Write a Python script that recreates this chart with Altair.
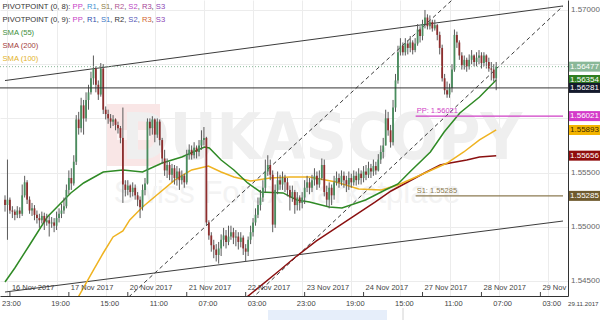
import altair as alt
import pandas as pd

FONT = "Liberation Sans, Arial, sans-serif"
W, H = 568, 296

# ---------------- data (hourly candles, trading hours since 16 Nov 2017 00:00) ----------------
first_open = 1.5525
close = [
    1.5520, 1.5525, 1.5515, 1.5514, 1.5511, 1.5515, 1.5512, 1.5529, 1.5541, 1.5525,
    1.5515, 1.5517, 1.5511, 1.5508, 1.5506, 1.5510, 1.5504, 1.5506, 1.5503, 1.5504,
    1.5501, 1.5508, 1.5512, 1.5515, 1.5519, 1.5534, 1.5545, 1.5540, 1.5560, 1.5599,
    1.5591, 1.5612, 1.5600, 1.5617, 1.5624, 1.5637, 1.5646, 1.5631, 1.5622, 1.5646,
    1.5608, 1.5604, 1.5600, 1.5597, 1.5599, 1.5594, 1.5591, 1.5582, 1.5539, 1.5534,
    1.5538, 1.5532, 1.5536, 1.5529, 1.5525, 1.5518, 1.5534, 1.5540, 1.5597, 1.5591,
    1.5599, 1.5585, 1.5597, 1.5580, 1.5563, 1.5552, 1.5557, 1.5548, 1.5554, 1.5545,
    1.5551, 1.5543, 1.5547, 1.5541, 1.5566, 1.5571, 1.5566, 1.5573, 1.5569, 1.5575,
    1.5580, 1.5582, 1.5504, 1.5492, 1.5483, 1.5479, 1.5474, 1.5480, 1.5488, 1.5492,
    1.5486, 1.5491, 1.5495, 1.5490, 1.5491, 1.5486, 1.5490, 1.5480, 1.5477, 1.5488,
    1.5495, 1.5504, 1.5511, 1.5520, 1.5527, 1.5536, 1.5551, 1.5557, 1.5548, 1.5502,
    1.5534, 1.5543, 1.5539, 1.5545, 1.5541, 1.5534, 1.5527, 1.5532, 1.5520, 1.5527,
    1.5522, 1.5527, 1.5536, 1.5541, 1.5536, 1.5543, 1.5547, 1.5539, 1.5545, 1.5557,
    1.5532, 1.5525, 1.5536, 1.5529, 1.5541, 1.5545, 1.5541, 1.5547, 1.5543, 1.5539,
    1.5545, 1.5541, 1.5547, 1.5543, 1.5549, 1.5545, 1.5551, 1.5548, 1.5554, 1.5551,
    1.5556, 1.5552, 1.5562, 1.5569, 1.5575, 1.5600, 1.5589, 1.5578, 1.5610, 1.5635,
    1.5661, 1.5667, 1.5661, 1.5669, 1.5665, 1.5670, 1.5663, 1.5669, 1.5682, 1.5676,
    1.5687, 1.5693, 1.5685, 1.5689, 1.5683, 1.5686, 1.5677, 1.5665, 1.5637, 1.5626,
    1.5622, 1.5628, 1.5645, 1.5677, 1.5670, 1.5658, 1.5649, 1.5654, 1.5648, 1.5654,
    1.5658, 1.5652, 1.5656, 1.5658, 1.5651, 1.5658, 1.5652, 1.5646, 1.5645, 1.5637,
    1.56477,
]
high = [
    1.5529, 1.5562, 1.5527, 1.5519, 1.5516, 1.5519, 1.5518, 1.5539, 1.5547, 1.5543,
    1.5528, 1.5522, 1.5520, 1.5515, 1.5512, 1.5514, 1.5513, 1.5512, 1.5510, 1.5509,
    1.5508, 1.5514, 1.5517, 1.5521, 1.5527, 1.5539, 1.5552, 1.5554, 1.5566, 1.5603,
    1.5606, 1.5619, 1.5617, 1.5624, 1.5631, 1.5643, 1.5658, 1.5648, 1.5635, 1.5651,
    1.5650, 1.5611, 1.5608, 1.5604, 1.5603, 1.5600, 1.5597, 1.5593, 1.5610, 1.5543,
    1.5543, 1.5539, 1.5541, 1.5539, 1.5532, 1.5528, 1.5539, 1.5545, 1.5600, 1.5600,
    1.5602, 1.5600, 1.5600, 1.5599, 1.5582, 1.5571, 1.5563, 1.5560, 1.5558, 1.5557,
    1.5556, 1.5554, 1.5552, 1.5549, 1.5571, 1.5576, 1.5575, 1.5578, 1.5575, 1.5580,
    1.5589, 1.5592, 1.5583, 1.5506, 1.5495, 1.5488, 1.5484, 1.5486, 1.5493, 1.5499,
    1.5497, 1.5501, 1.5501, 1.5499, 1.5497, 1.5495, 1.5495, 1.5492, 1.5484, 1.5491,
    1.5501, 1.5508, 1.5517, 1.5527, 1.5534, 1.5543, 1.5562, 1.5566, 1.5562, 1.5552,
    1.5539, 1.5551, 1.5548, 1.5551, 1.5548, 1.5545, 1.5538, 1.5538, 1.5534, 1.5532,
    1.5529, 1.5532, 1.5543, 1.5547, 1.5545, 1.5548, 1.5554, 1.5551, 1.5552, 1.5563,
    1.5562, 1.5538, 1.5541, 1.5539, 1.5547, 1.5551, 1.5549, 1.5552, 1.5551, 1.5547,
    1.5551, 1.5549, 1.5552, 1.5551, 1.5554, 1.5552, 1.5556, 1.5557, 1.5560, 1.5558,
    1.5562, 1.5560, 1.5567, 1.5575, 1.5582, 1.5608, 1.5606, 1.5594, 1.5617, 1.5641,
    1.5667, 1.5674, 1.5670, 1.5674, 1.5672, 1.5676, 1.5672, 1.5674, 1.5687, 1.5685,
    1.5691, 1.5700, 1.5696, 1.5695, 1.5691, 1.5691, 1.5687, 1.5680, 1.5668, 1.5641,
    1.5634, 1.5632, 1.5650, 1.5682, 1.5680, 1.5672, 1.5661, 1.5658, 1.5656, 1.5659,
    1.5663, 1.5659, 1.5661, 1.5663, 1.5661, 1.5661, 1.5659, 1.5656, 1.5652, 1.5650,
    1.5652,
]
low = [
    1.5514, 1.5488, 1.5512, 1.5508, 1.5506, 1.5508, 1.5508, 1.5510, 1.5527, 1.5521,
    1.5512, 1.5510, 1.5506, 1.5503, 1.5499, 1.5503, 1.5497, 1.5501, 1.5491, 1.5499,
    1.5495, 1.5497, 1.5504, 1.5508, 1.5512, 1.5517, 1.5530, 1.5534, 1.5538, 1.5557,
    1.5585, 1.5587, 1.5585, 1.5597, 1.5608, 1.5622, 1.5631, 1.5624, 1.5617, 1.5620,
    1.5604, 1.5599, 1.5595, 1.5591, 1.5593, 1.5589, 1.5586, 1.5577, 1.5522, 1.5528,
    1.5529, 1.5527, 1.5528, 1.5525, 1.5519, 1.5508, 1.5515, 1.5529, 1.5539, 1.5584,
    1.5585, 1.5578, 1.5582, 1.5575, 1.5558, 1.5547, 1.5545, 1.5543, 1.5541, 1.5539,
    1.5538, 1.5534, 1.5539, 1.5536, 1.5539, 1.5562, 1.5562, 1.5563, 1.5563, 1.5565,
    1.5571, 1.5575, 1.5501, 1.5488, 1.5477, 1.5471, 1.5468, 1.5466, 1.5473, 1.5482,
    1.5480, 1.5483, 1.5488, 1.5484, 1.5482, 1.5479, 1.5481, 1.5474, 1.5468, 1.5473,
    1.5484, 1.5491, 1.5501, 1.5508, 1.5515, 1.5523, 1.5532, 1.5547, 1.5543, 1.5495,
    1.5499, 1.5530, 1.5534, 1.5534, 1.5532, 1.5528, 1.5515, 1.5523, 1.5512, 1.5515,
    1.5515, 1.5517, 1.5521, 1.5532, 1.5530, 1.5532, 1.5538, 1.5534, 1.5536, 1.5543,
    1.5528, 1.5519, 1.5517, 1.5520, 1.5525, 1.5538, 1.5536, 1.5538, 1.5536, 1.5532,
    1.5534, 1.5536, 1.5538, 1.5538, 1.5539, 1.5539, 1.5541, 1.5543, 1.5545, 1.5545,
    1.5547, 1.5548, 1.5551, 1.5558, 1.5563, 1.5575, 1.5584, 1.5573, 1.5575, 1.5606,
    1.5632, 1.5658, 1.5658, 1.5658, 1.5659, 1.5661, 1.5659, 1.5661, 1.5667, 1.5670,
    1.5672, 1.5683, 1.5682, 1.5682, 1.5680, 1.5681, 1.5672, 1.5659, 1.5634, 1.5622,
    1.5619, 1.5619, 1.5624, 1.5643, 1.5665, 1.5654, 1.5645, 1.5645, 1.5643, 1.5645,
    1.5650, 1.5648, 1.5648, 1.5650, 1.5646, 1.5648, 1.5646, 1.5643, 1.5635, 1.5634,
    1.5626,
]
hours = list(range(-2, -2 + len(close)))

# moving averages (hour, price)
sma55_h = [-2, 2, 8, 15.2, 24.8, 30, 38, 46, 54, 62, 70, 79.2, 81.2, 86, 91.2, 96.8, 102,
           111.2, 116.8, 122, 130, 135.2, 144.8, 152.8, 158, 162.8, 171.2, 176.8, 183.2, 191.2, 198]
sma55_p = [1.54491, 1.54620, 1.54832, 1.55090, 1.55312, 1.55404, 1.55505, 1.55524, 1.55505,
           1.55588, 1.55644, 1.55736, 1.55727, 1.55616, 1.55524, 1.55404, 1.55321, 1.55312,
           1.55247, 1.55229, 1.55182, 1.55173, 1.55247, 1.55339, 1.55395, 1.55505, 1.55690,
           1.55874, 1.56050, 1.56197, 1.56354]
sma100_h = [26, 34, 38, 42, 46, 48.8, 54, 60.8, 67.2, 74, 80.8, 86, 91.2, 98, 106, 114, 122,
            132.8, 142, 151.2, 158, 167.2, 178, 184.8, 191.2, 198]
sma100_p = [1.54278, 1.54601, 1.54758, 1.54906, 1.54961, 1.55063, 1.55182, 1.55312, 1.55432,
            1.55524, 1.55561, 1.55505, 1.55459, 1.55422, 1.55450, 1.55459, 1.55459, 1.55413,
            1.55348, 1.55339, 1.55385, 1.55478, 1.55588, 1.55690, 1.55801, 1.55893]
sma200_h = [96, 110, 116.8, 124.8, 132.8, 140.8, 148.8, 155.2, 162, 168.8, 175.2, 179.2, 186, 191.2, 198]
sma200_p = [1.54343, 1.54601, 1.54730, 1.54869, 1.54989, 1.55109, 1.55229, 1.55330, 1.55413,
            1.55496, 1.55570, 1.55588, 1.55616, 1.55644, 1.55656]

# drawn trend lines (hour, price end points)
solid_lines = {"upper": ([-2, 225.2], [1.56349, 1.57037]),
               "lower": ([-2, 225.2], [1.54398, 1.55053])}
dashed_lines = {"a": ([40, 190], [1.54178, 1.57299]),
                "b": ([90, 225.2], [1.54157, 1.57036])}

current_price = 1.56477
level_black = 1.56281
pivot_names = ["PP", "S1"]
pivot_values = [1.56021, 1.55285]
pivot_colors = ["#cf3fc6", "#8c7b52"]
pivot_start_h = 165.2

tag_values = [1.56477, 1.56354, 1.56281, 1.56021, 1.55893, 1.55656, 1.55285]
tag_fill = ["#8ab898", "#2f7e20", "#141a2c", "#d43bc9", "#f3b400", "#8f0c0c", "#6f5b2e"]
tag_text = ["#ffffff", "#ffffff", "#ffffff", "#ffffff", "#3a2a00", "#ffffff", "#ffffff"]

y_grid = [1.545, 1.550, 1.555, 1.560, 1.565, 1.570]
y_labels = [1.570, 1.555, 1.550, 1.545]

time_ticks = [-1, 19, 39, 59, 79, 99, 119, 139, 159, 179, 199, 219]
time_labels = ["23:00", "19:00", "15:00", "11:00", "07:00", "03:00",
               "23:00", "19:00", "15:00", "11:00", "07:00", "03:00"]
date_ticks = [0, 24, 48, 72, 96, 120, 144, 168, 192, 216]
date_labels = ["16 Nov 2017", "17 Nov 2017", "20 Nov 2017", "21 Nov 2017", "22 Nov 2017",
               "23 Nov 2017", "24 Nov 2017", "27 Nov 2017", "28 Nov 2017", "29 Nov 2017"]
nav_date = "29.11.2017"

# ---------------- scales / helpers ----------------
xs = alt.Scale(domain=[-2, 225.2], nice=False, zero=False)
ys = alt.Scale(domain=[1.543614, 1.57092], nice=False, zero=False)
xaxis = alt.Axis(values=time_ticks, grid=True, gridColor="#ececec", labels=False, ticks=False,
                 domain=True, domainColor="#333333", title=None)
yaxis = alt.Axis(orient="right", values=y_grid, grid=True, gridColor="#ececec", labels=False,
                 ticks=False, domain=True, domainColor="#333333", title=None)


def X(f="h"):
    return alt.X(f"{f}:Q", scale=xs, axis=xaxis)


def Y(f="p"):
    return alt.Y(f"{f}:Q", scale=ys, axis=yaxis)


one = pd.DataFrame({"a": [0]})

opens = [first_open] + close[:-1]
candles = pd.DataFrame({"h": hours, "open": opens, "high": high, "low": low, "close": close})

GREEN, RED = "#4a8d5e", "#8e2e2e"

wicks = alt.Chart(candles).mark_rule(strokeWidth=1, color="#5a5a5a", clip=True).encode(
    x=X("h"), y=Y("low"), y2="high")
bodies = alt.Chart(candles).transform_calculate(
    col=f"datum.close >= datum.open ? '{GREEN}' : '{RED}'"
).mark_bar(size=1.8, clip=True).encode(
    x=X("h"), y=Y("open"), y2="close", color=alt.Color("col:N", scale=None))


def line_df(h, p, name):
    return pd.DataFrame({"h": h, "p": p, "name": name})


sma55 = alt.Chart(line_df(sma55_h, sma55_p, "55")).mark_line(
    color="#2f8a25", strokeWidth=1.5, clip=True).encode(x=X(), y=Y())
sma100 = alt.Chart(line_df(sma100_h, sma100_p, "100")).mark_line(
    color="#efb321", strokeWidth=1.5, clip=True).encode(x=X(), y=Y())
sma200 = alt.Chart(line_df(sma200_h, sma200_p, "200")).mark_line(
    color="#8a1010", strokeWidth=1.5, clip=True).encode(x=X(), y=Y())

solid_df = pd.concat([line_df(v[0], v[1], k) for k, v in solid_lines.items()])
dashed_df = pd.concat([line_df(v[0], v[1], k) for k, v in dashed_lines.items()])
solid = alt.Chart(solid_df).mark_line(color="#3c3c3c", strokeWidth=1, clip=True).encode(
    x=X(), y=Y(), detail="name:N")
dashed = alt.Chart(dashed_df).mark_line(color="#3c3c3c", strokeWidth=1, strokeDash=[4, 3],
                                        clip=True).encode(x=X(), y=Y(), detail="name:N")

cur_rule = alt.Chart(pd.DataFrame({"p": [current_price]})).mark_rule(
    color="#8ab898", strokeDash=[1, 2], strokeWidth=1).encode(y=Y())
black_rule = alt.Chart(pd.DataFrame({"p": [level_black]})).mark_rule(
    color="#333333", strokeWidth=1).encode(y=Y())

piv_df = pd.DataFrame({"name": pivot_names, "p": pivot_values, "col": pivot_colors,
                       "h": [pivot_start_h] * 2, "h2": [225.2] * 2})
piv_df["label"] = piv_df["name"] + ": " + piv_df["p"].map(lambda v: f"{v:.5f}")
piv_rules = alt.Chart(piv_df).mark_rule(strokeWidth=1.2).encode(
    x=X(), x2="h2", y=Y(), color=alt.Color("col:N", scale=None))
piv_text = alt.Chart(piv_df).mark_text(align="left", baseline="bottom", dx=1, dy=-1,
                                       fontSize=7.5, font=FONT).encode(
    x=X(), y=Y(), text="label:N", color=alt.Color("col:N", scale=None))

# right side price tags
tags_df = pd.DataFrame({"p": tag_values, "fill": tag_fill, "tcol": tag_text})
tags_df["label"] = tags_df["p"].map(lambda v: f"{v:.5f}")
tag_box = alt.Chart(tags_df).mark_tick(orient="horizontal", size=31, thickness=10,
                                       opacity=1).encode(
    x=alt.value(584.5), y=Y(), color=alt.Color("fill:N", scale=None))
tag_txt = alt.Chart(tags_df).mark_text(align="center", baseline="middle", fontSize=8,
                                       font=FONT).encode(
    x=alt.value(584.5), y=Y(), text="label:N", color=alt.Color("tcol:N", scale=None))

ylab_df = pd.DataFrame({"p": y_labels})
ylab_df["label"] = ylab_df["p"].map(lambda v: f"{v:.5f}")
ylab = alt.Chart(ylab_df).mark_text(align="left", baseline="middle", fontSize=8, font=FONT,
                                    color="#666666").encode(x=alt.value(571), y=Y(), text="label:N")

# bottom labels
date_df = pd.DataFrame({"h": date_ticks, "label": date_labels})
date_txt = alt.Chart(date_df).mark_text(align="left", baseline="middle", dx=2, fontSize=7.5,
                                        font=FONT, color="#444444", clip=True).encode(
    x=X(), y=alt.value(288), text="label:N")
date_tick = alt.Chart(date_df).mark_rule(color="#444444").encode(
    x=X(), y=alt.value(292), y2=alt.value(296))
time_df = pd.DataFrame({"h": time_ticks, "label": time_labels})
time_txt = alt.Chart(time_df).mark_text(align="center", baseline="middle", dx=4, fontSize=7.5,
                                        font=FONT, color="#444444").encode(
    x=X(), y=alt.value(304), text="label:N")
date_right = alt.Chart(one).mark_text(align="left", baseline="middle", fontSize=6.2, font=FONT,
                                      color="#444444", text=nav_date).encode(
    x=alt.value(568), y=alt.value(304))

# navigator remnants under the axis
nav_area = alt.Chart(one).mark_rect(color="#e6eefa").encode(
    x=alt.value(268), x2=alt.value(387), y=alt.value(310), y2=alt.value(320))
nav_line = alt.Chart(one).mark_rule(color="#d2d2d2").encode(
    x=alt.value(403), y=alt.value(308), y2=alt.value(320))

# watermark
wm_box = alt.Chart(one).mark_rect(color="#f9e6e6").encode(
    x=alt.value(107), x2=alt.value(160), y=alt.value(104), y2=alt.value(166))
wm_c1 = alt.Chart(one).mark_rect(color="#fdf5f5").encode(
    x=alt.value(129), x2=alt.value(138), y=alt.value(114), y2=alt.value(156))
wm_c2 = alt.Chart(one).mark_rect(color="#fdf5f5").encode(
    x=alt.value(117), x2=alt.value(150), y=alt.value(130), y2=alt.value(140))
wm_t1 = alt.Chart(one).mark_text(align="center", baseline="middle", fontSize=64,
                                 fontWeight="bold",
                                 font="Liberation Sans Narrow, DejaVu Sans Condensed, sans-serif",
                                 color="#efefef", text="DUKASCOPY").encode(
    x=alt.value(322), y=alt.value(140))
wm_t2 = alt.Chart(one).mark_text(align="center", baseline="middle", fontSize=31,
                                 font=FONT, color="#f3f3f3",
                                 text="Swiss Forex Marketplace").encode(
    x=alt.value(287), y=alt.value(194))

# legend (multi coloured tokens laid out with Arial metrics)
AW = {'P': 667, 'I': 278, 'V': 667, 'O': 778, 'T': 611, 'N': 722, ' ': 278, '(': 333, ')': 333,
      '0': 556, ',': 278, '8': 556, '9': 556, ':': 278, 'R': 722, 'S': 667, '1': 556, '2': 556,
      '3': 556, 'M': 833, 'A': 667, '5': 556}
LFS = 7.6
DARK = "#333333"
legend_lines = [
    [("PIVOTPOINT (0, 8): ", DARK), ("PP", "#c63ec6"), (", ", DARK), ("R1", "#3b93d3"), (", ", DARK),
     ("S1", "#8d7c45"), (", ", DARK), ("R2", "#b0568f"), (", ", DARK), ("S2", "#b845c4"), (", ", DARK),
     ("R3", "#a64395"), (", ", DARK), ("S3", "#8c45b5")],
    [("PIVOTPOINT (0, 9): ", DARK), ("PP", "#c63ec6"), (", ", DARK), ("R1", "#2e4fae"), (", ", DARK),
     ("S1", "#3a76c4"), (", ", DARK), ("R2", "#333333"), (", ", DARK), ("S2", "#5656b8"), (", ", DARK),
     ("R3", "#d0642f"), (", ", DARK), ("S3", "#8c45b5")],
    [("SMA (55)", "#3c8f3c")],
    [("SMA (200)", "#a33d3d")],
    [("SMA (100)", "#e3b22a")],
]
rows = []
for li, toks in enumerate(legend_lines):
    xpos = 2.5
    for t, c in toks:
        rows.append({"t": t, "c": c, "x": xpos, "y": 7 + 13 * li})
        xpos += sum(AW.get(ch, 556) for ch in t) * LFS / 1000.0
leg_df = pd.DataFrame(rows)
legend = alt.Chart(leg_df).mark_text(align="left", baseline="middle", fontSize=LFS, font=FONT).encode(
    x=alt.X("x:Q", scale=None, axis=None), y=alt.Y("y:Q", scale=None, axis=None),
    text="t:N", color=alt.Color("c:N", scale=None))

chart = alt.layer(
    wm_box, wm_c1, wm_c2, wm_t1, wm_t2,
    solid, dashed, sma200, sma100, sma55,
    wicks, bodies,
    cur_rule, black_rule, piv_rules, piv_text,
    date_tick, date_txt, time_txt, date_right, nav_area, nav_line,
    ylab, tag_box, tag_txt, legend,
).resolve_scale(x="shared", y="shared").properties(
    width=W, height=H, padding={"left": 0, "top": 0, "right": 32, "bottom": 24}, autosize="none",
    background="white",
).configure_view(strokeWidth=0)

chart.save("out.html", embed_options={"renderer": "svg", "actions": False})
